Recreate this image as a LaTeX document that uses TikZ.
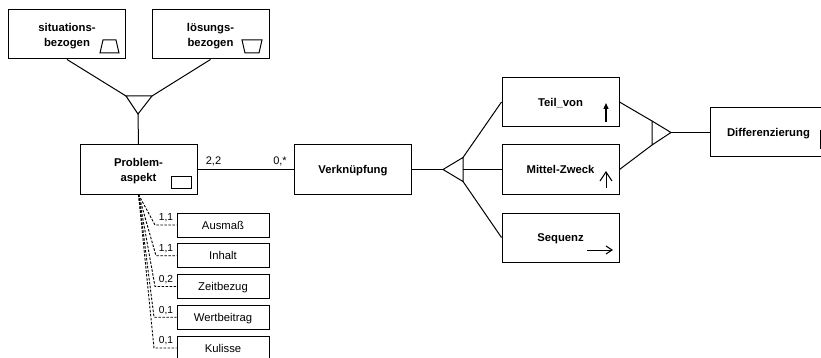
\documentclass[tikz,border=0pt]{standalone}
\usepackage{fontspec}
\setmainfont{Liberation Sans}
\usetikzlibrary{arrows.meta}
\begin{document}
\begin{tikzpicture}[x=1pt,y=-1pt,
  line width=1pt,
  entity/.style={draw, minimum width=117pt, minimum height=49pt, inner sep=0pt,
    align=center, text depth=-1.5pt, font=\fontsize{11.3}{15}\selectfont\bfseries},
  attr/.style={draw, minimum width=92pt, minimum height=24pt, inner sep=0pt,
    text depth=0pt, font=\fontsize{11.3}{12}\selectfont},
  card/.style={font=\fontsize{11}{12}\selectfont, inner sep=0pt},
  smallcard/.style={font=\fontsize{10.2}{12}\selectfont, inner sep=0pt},
  link/.style={line width=1pt},
  attrlink/.style={dash pattern=on 2.5pt off 1.5pt, line width=0.9pt},
  icon/.style={line width=1pt},
]
\useasboundingbox (0,0) rectangle (821,358);
\clip (0,0) rectangle (821,358);

% entity types
\node[entity] (sit)  at (67,34.5)    {situations-\\bezogen};
\node[entity] (loes) at (210.5,34.5) {lösungs-\\bezogen};
\node[entity] (pa)   at (138.5,169.5) {Problem-\\aspekt};
\node[entity] (vk)   at (353,169.5)  {Verknüpfung};
\node[entity] (teil) at (560.5,102)  {Teil\_von};
\node[entity] (mz)   at (560.5,169.5) {Mittel-Zweck};
\node[entity] (seq)  at (560.5,237.5) {Sequenz};
\node[entity] (diff) at (768.5,132.5) {Differenzierung};

% attributes of Problemaspekt
\node[attr] (aus)  at (223,225)    {Ausmaß};
\node[attr] (inh)  at (223,255.75) {Inhalt};
\node[attr] (zeit) at (223,286.5)  {Zeitbezug};
\node[attr] (wert) at (223,317.25) {Wertbeitrag};
\node[attr] (kul)  at (223,348)    {Kulisse};

% icons inside the entity boxes
\draw[icon] (100,53) -- (119,53) -- (116,40) -- (103,40) -- cycle;
\draw[icon] (242,40) -- (262,40) -- (259,53) -- (245,53) -- cycle;
\draw[icon] (171,177) rectangle (191,188);
\draw[line width=1.3pt, -{Triangle[length=6pt,width=5pt]}] (606,122) -- (606,103);
\draw[icon] (606,188) -- (606,172);
\draw[icon] (600,181) -- (606,172) -- (612,181);
\draw[icon] (587,250) -- (612,250);
\draw[icon] (606,246) -- (612,250) -- (606,254);
\draw[icon] (820,131) rectangle (840,149);

% specialisation triangle above Problemaspekt
\coordinate (ta) at (126,96);
\coordinate (tb) at (152,96);
\coordinate (tc) at (138,114);
\draw[link] (ta) -- (tb) -- (tc) -- cycle;
\draw[link] (sit.south) -- (ta);
\draw[link] (loes.south) -- (tb);
\draw[link] (tc) -- (pa.north);

% specialisation triangle after Verknüpfung
\coordinate (ma) at (443,169.5);
\coordinate (mb) at (463,157.5);
\coordinate (mc) at (463,181.5);
\coordinate (mm) at (463,169.5);
\draw[link] (ma) -- (mb) -- (mc) -- cycle;
\draw[link] (vk.east) -- (ma);
\draw[link] (mb) -- (teil.west);
\draw[link] (mm) -- (mz.west);
\draw[link] (mc) -- (seq.west);

% generalisation triangle towards Differenzierung
\coordinate (ra) at (652,121);
\coordinate (rb) at (652,145);
\coordinate (rc) at (671,132.5);
\draw[link] (ra) -- (rb) -- (rc) -- cycle;
\draw[link] (teil.east) -- (ra);
\draw[link] (mz.east) -- (rb);
\draw[link] (rc) -- (diff.west);

% relationship Problemaspekt -- Verknüpfung
\draw[link] (pa.east) -- (vk.west);
\node[card] (c22) at (213.5,161) {2,2};
\node[card] (c0s) at (280,161) {0,*};

% attribute links with cardinalities
\coordinate (k1) at (155,225);
\coordinate (k2) at (156,255.75);
\coordinate (k3) at (155,286.5);
\coordinate (k4) at (154,317.25);
\coordinate (k5) at (154,348);
\draw[attrlink] (pa.south) -- (k1) -- (aus.west);
\draw[attrlink] (pa.south) -- (k2) -- (inh.west);
\draw[attrlink] (pa.south) -- (k3) -- (zeit.west);
\draw[attrlink] (pa.south) -- (k4) -- (wert.west);
\draw[attrlink] (pa.south) -- (k5) -- (kul.west);
\node[smallcard] (l1) at (166,218)    {1,1};
\node[smallcard] (l2) at (166,248.75) {1,1};
\node[smallcard] (l3) at (166,279.5)  {0,2};
\node[smallcard] (l4) at (166,310.25) {0,1};
\node[smallcard] (l5) at (166,341)    {0,1};
\end{tikzpicture}
\end{document}
